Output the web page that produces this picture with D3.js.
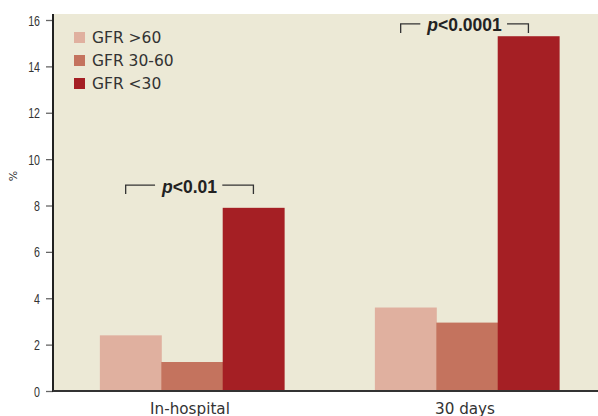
<!DOCTYPE html>
<html><head><meta charset="utf-8">
<script src="https://cdn.jsdelivr.net/npm/d3@7"></script>
<style>body{margin:0;background:#fff;}svg{display:block;}</style>
</head><body>
<svg id="c" width="598" height="416"></svg>
<script>
const categories = ["In-hospital", "30 days"];
const seriesNames = ["GFR >60", "GFR 30-60", "GFR <30"];
const seriesValues = [
  [2.4, 3.6],   // GFR >60
  [1.25, 2.95], // GFR 30-60
  [7.9, 15.3]   // GFR <30
];
const colors = ["#E0B09F", "#C4735E", "#A51F24"];
const yTicks = [0, 2, 4, 6, 8, 10, 12, 14, 16];
const pLabels = [
  {cat: "In-hospital", val: 8.88, text: "<0.01"},
  {cat: "30 days", val: 15.83, text: "<0.0001"}
];

const svg = d3.select("#c");
const axisX = 53, plotTop = 14, plotRight = 598;
const y = d3.scaleLinear().domain([0, 16]).range([391, 20]);
const x0 = d3.scaleBand().domain(categories).range([54.5, 604.5]).paddingInner(0.33).paddingOuter(0.165);
const x1 = d3.scaleBand().domain(d3.range(seriesNames.length)).range([0, x0.bandwidth()]);

svg.append("rect").attr("x", axisX).attr("y", plotTop).attr("width", plotRight - axisX).attr("height", y(0) - plotTop).attr("fill", "#ECE9D6");

// bars
categories.forEach((c, ci) => {
  seriesValues.forEach((vals, si) => {
    svg.append("rect")
      .attr("x", x0(c) + x1(si))
      .attr("y", y(vals[ci]))
      .attr("width", x1.bandwidth() + 0.5)
      .attr("height", y(0) - y(vals[ci]))
      .attr("fill", colors[si]);
  });
});

// y axis
const yAxis = d3.axisLeft(y).tickValues(yTicks).tickSize(7).tickPadding(4);
const gy = svg.append("g").attr("transform", `translate(${axisX},0)`).call(yAxis);
gy.select(".domain").remove();
gy.selectAll(".tick line").attr("stroke", "#666").attr("stroke-width", 1.3);
gy.selectAll(".tick text")
  .attr("x", 0).attr("dy", "0.36em")
  .attr("transform", "translate(-13,0) scale(0.76,1)")
  .attr("font-family", "'Liberation Sans', Arial, sans-serif").attr("font-size", 14).attr("fill", "#333");
svg.append("line").attr("x1", axisX).attr("x2", axisX).attr("y1", plotTop).attr("y2", y(0) + 1).attr("stroke", "#222").attr("stroke-width", 2);
svg.append("line").attr("x1", axisX).attr("x2", plotRight).attr("y1", y(0)).attr("y2", y(0)).attr("stroke", "#333").attr("stroke-width", 2);

// x labels
svg.selectAll(".xl").data(categories).enter().append("text")
  .attr("x", d => x0(d) + x0.bandwidth() / 2 - 2)
  .attr("y", 414)
  .attr("text-anchor", "middle")
  .attr("font-family", "'DejaVu Sans', sans-serif")
  .attr("font-size", 15.2).attr("fill", "#333").text(d => d);

// y label
svg.append("text").attr("transform", "translate(17,176) rotate(-90)").attr("text-anchor", "middle")
  .attr("font-family", "'DejaVu Sans', sans-serif").attr("font-size", 11).attr("fill", "#333").text("%");

// legend
seriesNames.forEach((n, i) => {
  const ly = 32 + i * 23;
  svg.append("rect").attr("x", 74).attr("y", ly).attr("width", 11).attr("height", 11).attr("fill", colors[i]);
  svg.append("text").attr("x", 92).attr("y", ly + 11).attr("font-family", "'DejaVu Sans', sans-serif")
    .attr("font-size", 15.5).attr("fill", "#333").text(n);
});

// p-value brackets
pLabels.forEach(p => {
  const left = x0(p.cat) + x1(0) + x1.bandwidth() * 0.42;
  const right = x0(p.cat) + x1(2) + x1.bandwidth() / 2;
  const top = y(p.val);
  const cx = (left + right) / 2;
  const t = svg.append("text").attr("x", cx).attr("y", top + 7.5).attr("text-anchor", "middle")
    .attr("font-family", "'Liberation Sans', Arial, sans-serif").attr("font-weight", "bold")
    .attr("font-size", 17.5).attr("fill", "#222");
  t.append("tspan").attr("font-style", "italic").text("p");
  t.append("tspan").text(p.text);
  const bb = t.node().getBBox();
  const path = `M${left},${top + 9}V${top}H${bb.x - 6}M${bb.x + bb.width + 5},${top}H${right}V${top + 9}`;
  svg.append("path").attr("d", path).attr("fill", "none").attr("stroke", "#333").attr("stroke-width", 1.3);
});
</script>
</body></html>
